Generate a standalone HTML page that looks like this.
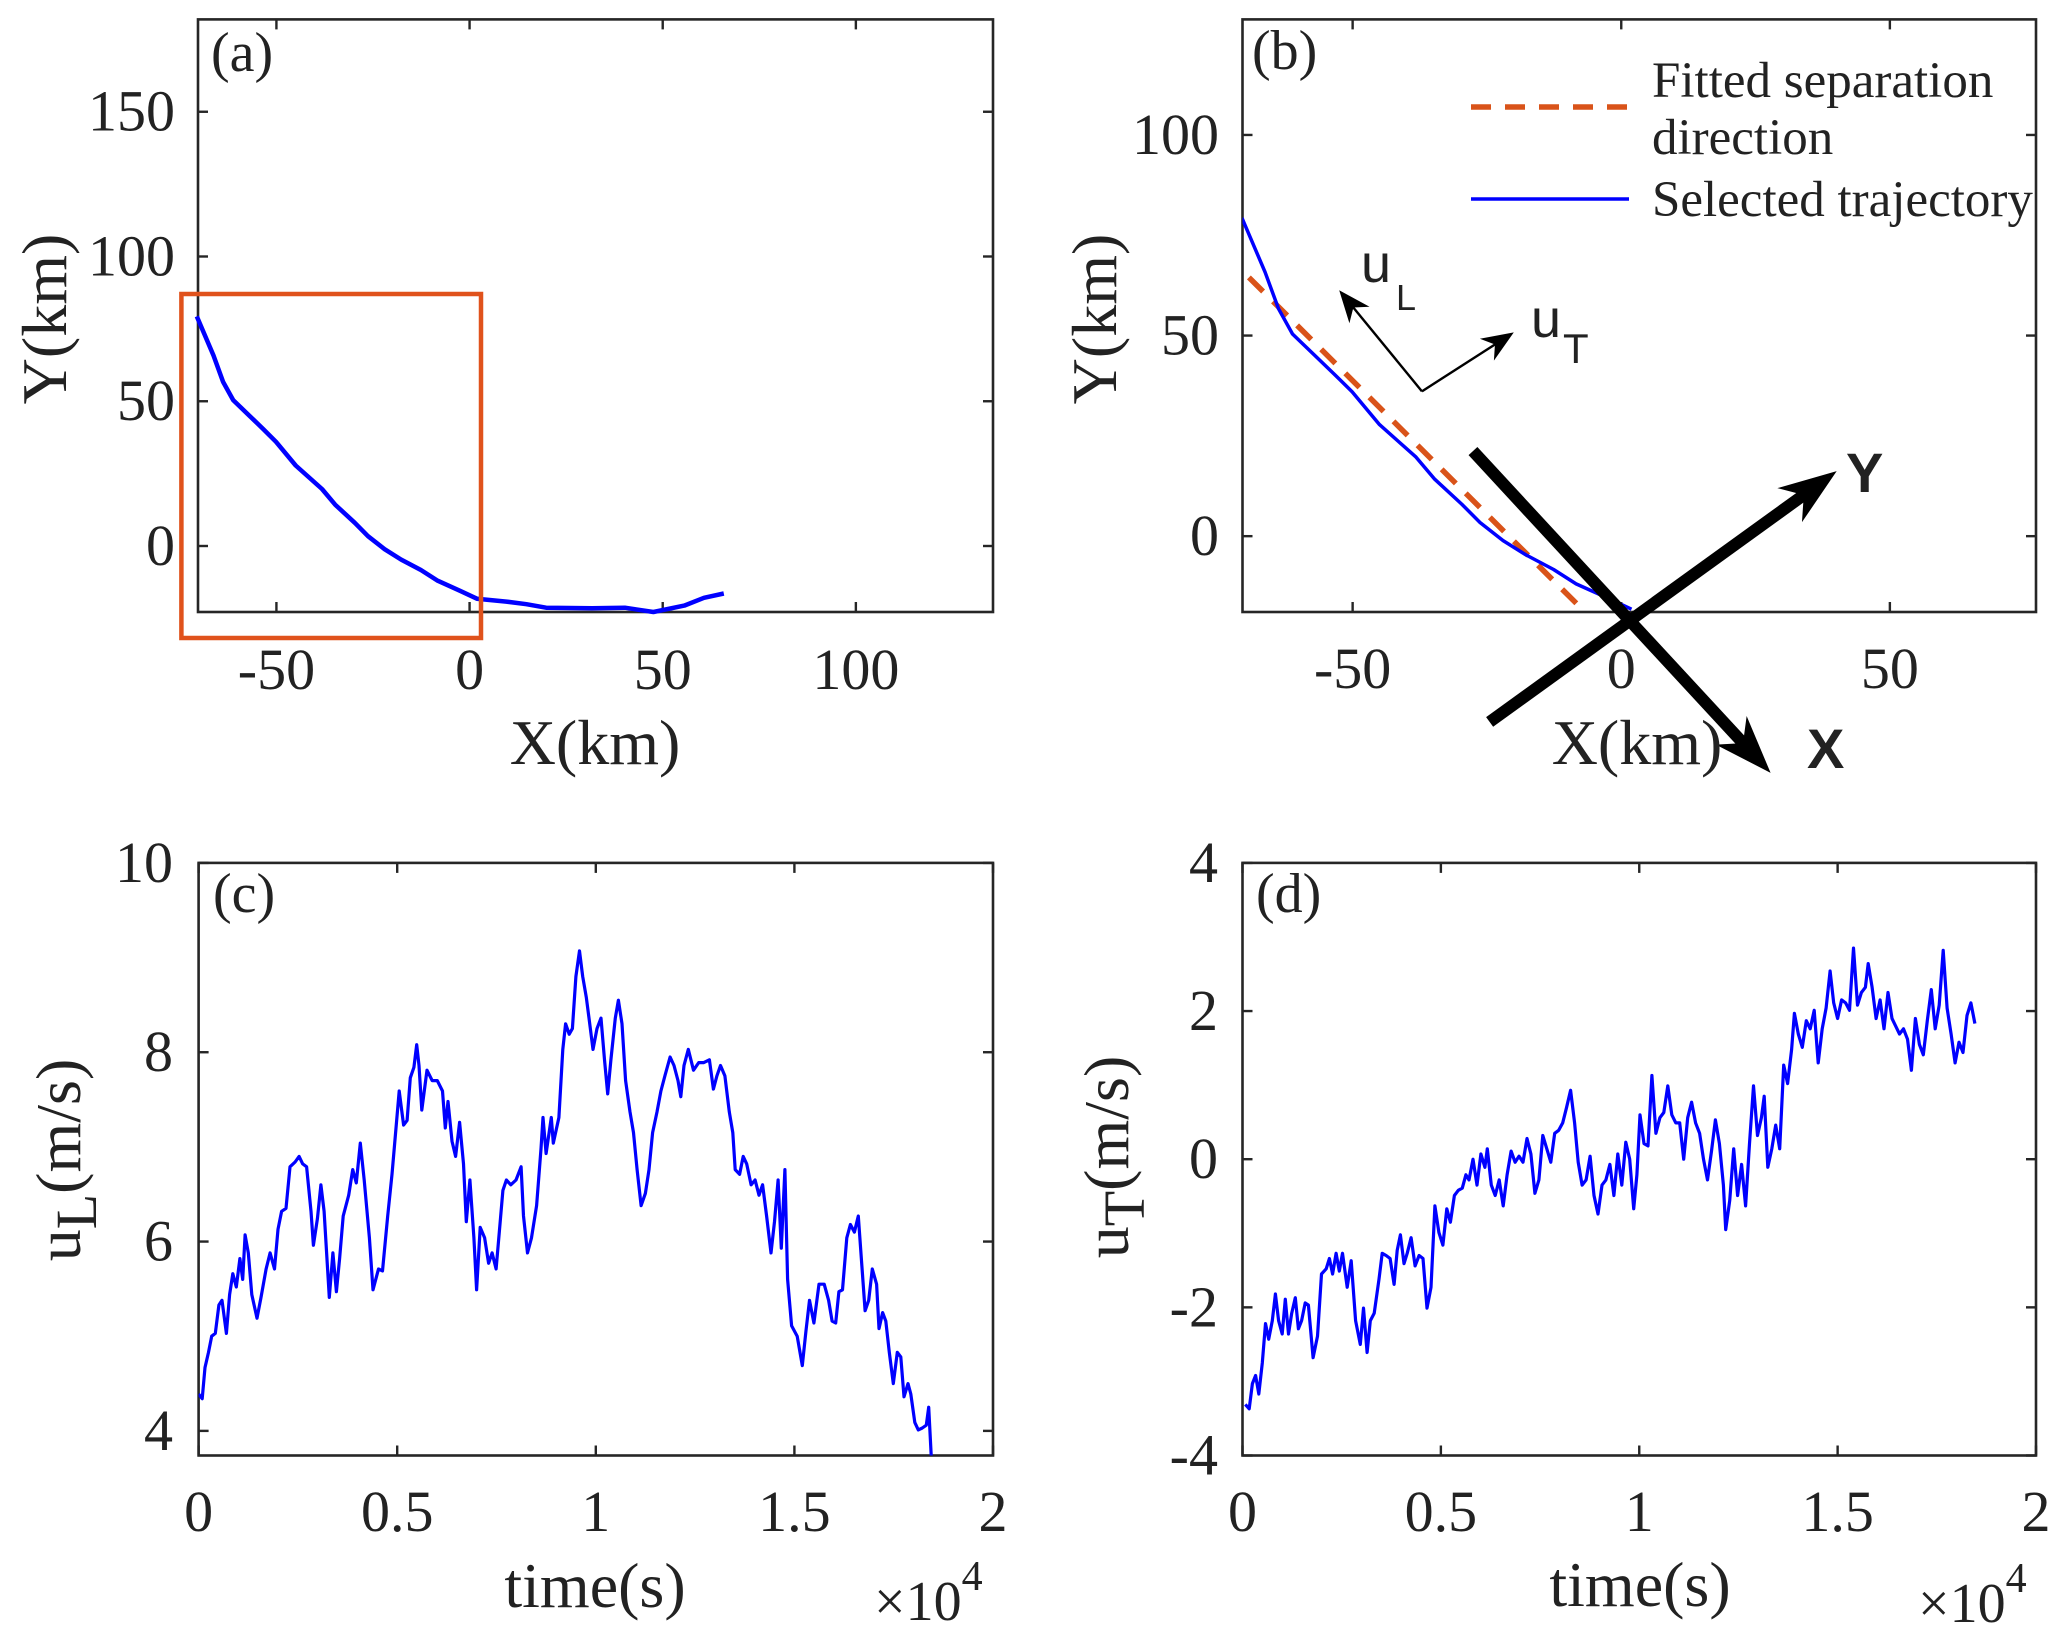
<!DOCTYPE html>
<html><head><meta charset="utf-8"><style>
html,body{margin:0;padding:0;background:#fff;}
svg{display:block;}
text{font-family:"Liberation Serif",serif;fill:#222;}
.sans{font-family:"Liberation Sans",sans-serif;}
</style></head><body>
<svg id="fig" width="2067" height="1639" viewBox="0 0 2067 1639" xmlns="http://www.w3.org/2000/svg">
<defs>
<clipPath id="clipB"><rect x="1242.5" y="19.4" width="793.5" height="592.6"/></clipPath>
<clipPath id="clipC"><rect x="198.6" y="862.9" width="794.4" height="592.6"/></clipPath>
<clipPath id="clipD"><rect x="1242.5" y="862.9" width="793.5" height="592.6"/></clipPath>
</defs>
</svg>
<script>
// ---------- data ----------
const trajX = [-70.6,-66.3,-63.8,-61.2,-57.0,-53.5,-50.1,-45.0,-38.2,-34.8,-29.7,-26.3,-22.0,-17.7,-12.6,-8.4,-2.4,1.9,9.5,14.7,19.8,31.7,40.2,47.6,55.6,60.7,65.8];
const trajY = [79.3,65.8,56.7,50.4,45.0,40.5,36.0,27.8,19.7,14.3,8.0,3.4,-1.1,-4.7,-8.3,-11.9,-15.5,-18.2,-19.2,-20.1,-21.3,-21.5,-21.3,-22.8,-20.6,-17.9,-16.4];
const selXMax = 5;
const fitX = [-69.3,-6.75];
const fitY = [64.5,-18.9];
const xTicksA = [-50,0,50,100];
const yTicksA = [0,50,100,150];
const xTicksB = [-50,0,50];
const yTicksB = [0,50,100];
const timeC = [0,.009,.016,.025,.033,.042,.051,.059,.070,.078,.086,.095,.104,.111,.117,.125,.134,.147,.157,.170,.180,.191,.200,.209,.220,.230,.243,.253,.262,.272,.283,.289,.299,.308,.316,.329,.338,.347,.355,.364,.378,.388,.397,.407,.417,.430,.439,.453,.463,.476,.487,.496,.505,.516,.525,.533,.542,.549,.555,.562,.575,.588,.601,.614,.621,.628,.638,.647,.657,.667,.674,.683,.693,.700,.709,.720,.730,.739,.749,.757,.766,.775,.786,.799,.812,.818,.828,.838,.851,.862,.867,.875,.888,.893,.907,.917,.924,.933,.941,.950,.959,.967,.976,.983,.993,1.003,1.013,1.022,1.030,1.038,1.049,1.057,1.066,1.075,1.086,1.095,1.104,1.114,1.125,1.134,1.143,1.154,1.164,1.174,1.187,1.197,1.207,1.214,1.222,1.233,1.246,1.259,1.272,1.286,1.296,1.305,1.314,1.325,1.336,1.345,1.351,1.362,1.371,1.380,1.391,1.401,1.411,1.420,1.430,1.441,1.450,1.459,1.467,1.476,1.483,1.493,1.507,1.520,1.529,1.538,1.549,1.562,1.575,1.586,1.595,1.604,1.612,1.621,1.632,1.641,1.651,1.661,1.670,1.678,1.687,1.696,1.707,1.713,1.722,1.730,1.739,1.749,1.759,1.768,1.776,1.786,1.793,1.803,1.812,1.822,1.832,1.838,1.845];
const uL = [4.39,4.34,4.67,4.83,5.00,5.03,5.33,5.38,5.03,5.44,5.66,5.52,5.82,5.60,6.07,5.88,5.44,5.19,5.41,5.71,5.88,5.71,6.13,6.32,6.35,6.79,6.84,6.90,6.82,6.79,6.32,5.96,6.24,6.60,6.32,5.41,5.88,5.47,5.82,6.27,6.49,6.76,6.62,7.04,6.65,6.04,5.49,5.71,5.69,6.27,6.71,7.15,7.59,7.23,7.28,7.73,7.84,8.08,7.86,7.39,7.81,7.70,7.70,7.59,7.20,7.48,7.06,6.90,7.26,6.82,6.21,6.65,6.04,5.49,6.15,6.04,5.77,5.88,5.71,6.10,6.54,6.65,6.60,6.65,6.79,6.27,5.88,6.04,6.38,6.98,7.31,6.93,7.31,7.04,7.31,8.03,8.30,8.19,8.25,8.80,9.07,8.80,8.58,8.36,8.03,8.25,8.36,7.92,7.56,7.92,8.36,8.55,8.30,7.70,7.37,7.15,6.76,6.38,6.51,6.76,7.15,7.37,7.59,7.75,7.95,7.86,7.70,7.53,7.86,8.03,7.81,7.89,7.89,7.92,7.61,7.75,7.86,7.75,7.37,7.15,6.76,6.71,6.90,6.82,6.60,6.65,6.49,6.60,6.27,5.88,6.21,6.65,5.93,6.76,5.60,5.11,5.00,4.69,5.05,5.38,5.14,5.55,5.55,5.38,5.16,5.14,5.47,5.49,6.04,6.18,6.10,6.27,5.74,5.27,5.38,5.71,5.55,5.08,5.25,5.16,4.83,4.50,4.83,4.78,4.36,4.50,4.39,4.09,4.01,4.03,4.06,4.25,3.70];
const yTicksC = [4,6,8,10];
const timeD = [.007,.017,.025,.033,.041,.050,.058,.066,.075,.083,.091,.100,.108,.116,.124,.133,.141,.149,.158,.166,.178,.189,.199,.211,.219,.227,.236,.244,.252,.264,.274,.285,.297,.305,.314,.322,.332,.344,.352,.362,.372,.382,.390,.398,.407,.415,.425,.435,.445,.455,.465,.475,.485,.495,.505,.515,.524,.534,.544,.554,.563,.571,.581,.591,.601,.611,.617,.627,.637,.647,.657,.667,.677,.687,.697,.707,.717,.727,.737,.747,.757,.767,.777,.787,.797,.807,.817,.827,.837,.846,.856,.866,.876,.886,.896,.906,.916,.926,.936,.946,.956,.966,.976,.986,.994,1.002,1.012,1.022,1.032,1.042,1.052,1.062,1.072,1.082,1.092,1.102,1.112,1.122,1.132,1.142,1.152,1.162,1.172,1.182,1.192,1.202,1.212,1.218,1.228,1.238,1.248,1.258,1.268,1.278,1.288,1.298,1.308,1.315,1.324,1.334,1.344,1.354,1.364,1.374,1.384,1.391,1.401,1.411,1.421,1.431,1.441,1.451,1.461,1.471,1.481,1.490,1.500,1.510,1.520,1.530,1.540,1.550,1.560,1.570,1.577,1.587,1.597,1.607,1.617,1.627,1.637,1.646,1.656,1.666,1.676,1.686,1.696,1.706,1.716,1.726,1.736,1.746,1.756,1.766,1.776,1.786,1.796,1.806,1.816,1.826,1.836,1.846];
const uT = [-3.31,-3.37,-3.03,-2.92,-3.17,-2.75,-2.22,-2.43,-2.18,-1.82,-2.18,-2.36,-1.89,-2.36,-2.08,-1.87,-2.29,-2.18,-1.94,-1.97,-2.68,-2.39,-1.55,-1.48,-1.34,-1.55,-1.27,-1.51,-1.27,-1.73,-1.37,-2.18,-2.50,-2.01,-2.61,-2.18,-2.08,-1.62,-1.27,-1.30,-1.34,-1.69,-1.23,-1.02,-1.41,-1.27,-1.06,-1.44,-1.30,-1.34,-2.01,-1.73,-0.63,-0.99,-1.16,-0.67,-0.85,-0.49,-0.42,-0.39,-0.21,-0.28,0.00,-0.35,0.07,-0.11,0.14,-0.35,-0.49,-0.28,-0.63,-0.21,0.11,-0.04,0.04,-0.04,0.28,0.07,-0.46,-0.28,0.32,0.14,-0.04,0.35,0.39,0.49,0.70,0.93,0.49,-0.04,-0.35,-0.28,0.04,-0.49,-0.74,-0.35,-0.28,-0.07,-0.49,0.07,-0.35,0.23,0.00,-0.67,-0.21,0.60,0.21,0.18,1.13,0.35,0.56,0.63,0.99,0.60,0.49,0.49,0.00,0.56,0.77,0.49,0.35,0.00,-0.28,0.11,0.53,0.21,-0.35,-0.95,-0.56,0.14,-0.49,-0.07,-0.63,0.21,0.99,0.32,0.56,0.85,-0.11,0.14,0.46,0.14,1.27,1.02,1.48,1.97,1.69,1.51,1.87,1.76,2.01,1.30,1.76,2.04,2.54,2.11,1.90,2.15,2.11,2.01,2.85,2.08,2.25,2.32,2.64,2.32,1.90,2.15,1.76,2.25,1.90,1.80,1.69,1.76,1.62,1.20,1.90,1.55,1.41,1.87,2.29,1.76,2.08,2.82,2.04,1.69,1.30,1.58,1.44,1.94,2.11,1.83];
const yTicksD = [-4,-2,0,2,4];
const timeTicks = [0,0.5,1,1.5,2];
const timeTickLabels = ['0','0.5','1','1.5','2'];

// ---------- helpers ----------
const NS='http://www.w3.org/2000/svg';
const svg=document.getElementById('fig');
function mk(tag,attrs,parent){const e=document.createElementNS(NS,tag);for(const k in attrs)e.setAttribute(k,attrs[k]);(parent||svg).appendChild(e);return e;}
function lin(d0,d1,p0,p1){return v=>p0+(v-d0)*(p1-p0)/(d1-d0);}
function txt(s,x,y,size,anchor,extra){const e=mk('text',Object.assign({x:x,y:y,'font-size':size,'text-anchor':anchor||'start'},extra||{}));e.textContent=s;return e;}

function axes(name,L,R,T,B,sx,sy,xt,xl,yt,yl,xlabY,ylabX){
  const g=mk('g',{});
  
  
  const box=mk('rect',{x:L,y:T,width:R-L,height:B-T,fill:'none',stroke:'#262626','stroke-width':2.6},g);
  
  
  xt.forEach((v,i)=>{const x=sx(v);
    const t1=mk('line',{x1:x,y1:B,x2:x,y2:B-10,stroke:'#262626','stroke-width':2.4},g);
    
    
    const t2=mk('line',{x1:x,y1:T,x2:x,y2:T+10,stroke:'#262626','stroke-width':2.4},g);
    
    
    const lb=txt(xl[i],x,xlabY,58,'middle');
    
    
  });
  yt.forEach((v,i)=>{const y=sy(v);
    const t1=mk('line',{x1:L,y1:y,x2:L+10,y2:y,stroke:'#262626','stroke-width':2.4},g);
    
    
    const t2=mk('line',{x1:R,y1:y,x2:R-10,y2:y,stroke:'#262626','stroke-width':2.4},g);
    
    
    const lb=txt(yl[i],ylabX,y+19,58,'end');
    
    
  });
}
function poly(xs,ys,sx,sy,attrs){return mk('polyline',Object.assign({points:xs.map((v,i)=>sx(v).toFixed(1)+','+sy(ys[i]).toFixed(1)).join(' '),fill:'none'},attrs));}
function arrow(x1,y1,x2,y2,w,hl,hw,name){
  const dx=x2-x1,dy=y2-y1,len=Math.hypot(dx,dy),ux=dx/len,uy=dy/len,px=-uy,py=ux;
  const bx=x2-ux*hl,by=y2-uy*hl;
  const l=mk('line',{x1:x1,y1:y1,x2:x2-ux*hl*0.6,y2:y2-uy*hl*0.6,stroke:'#000','stroke-width':w});
  
  
  const h=mk('polygon',{points:[x2,y2,bx+px*hw,by+py*hw,x2-ux*hl*0.7,y2-uy*hl*0.7,bx-px*hw,by-py*hw].join(','),fill:'#000'});
  
  
}

// ---------- panel (a) ----------
const axL=198,axR=993,axT=19.4,axB=612;
const sxA=lin(-70.3,135.5,axL,axR), syA=lin(-22.8,181.9,axB,axT);
axes('panel-a',axL,axR,axT,axB,sxA,syA,xTicksA,xTicksA.map(String),yTicksA,yTicksA.map(String),689,175);
const ta=poly(trajX,trajY,sxA,syA,{stroke:'#0000ff','stroke-width':4.5,'stroke-linejoin':'round'});


const zr=mk('rect',{x:181.4,y:294,width:299.6,height:344,fill:'none',stroke:'#E0521C','stroke-width':4.5});


let e;
e=txt('(a)',211,71,56,'start');


e=txt('X(km)',595,764,64,'middle');


e=txt('Y(km)',0,0,64,'middle',{transform:'translate(66,319) rotate(-90)'});



// ---------- panel (b) ----------
const bL=1242.5,bR=2036,bT=19.4,bB=612;
const sxB=lin(-70.5,77.2,bL,bR), syB=lin(-18.9,128.8,bB,bT);
axes('panel-b',bL,bR,bT,bB,sxB,syB,xTicksB,xTicksB.map(String),yTicksB,yTicksB.map(String),688,1219);
const fl=poly(fitX,fitY,sxB,syB,{stroke:'#D95319','stroke-width':5.5,'stroke-dasharray':'20 14'});


const selIdx=trajX.map((v,i)=>i).filter(i=>trajX[i]<=selXMax);
const tb=poly(selIdx.map(i=>trajX[i]),selIdx.map(i=>trajY[i]),sxB,syB,{stroke:'#0000ff','stroke-width':3.5,'stroke-linejoin':'round','clip-path':'url(#clipB)'});


// legend
const lg=mk('line',{x1:1471,y1:107,x2:1629,y2:107,stroke:'#D95319','stroke-width':5.5,'stroke-dasharray':'20 14'});


e=txt('Fitted separation',1652,97,51,'start');


e=txt('direction',1652,154,51,'start');


const lb2=mk('line',{x1:1471,y1:199,x2:1629,y2:199,stroke:'#0000ff','stroke-width':3.5});


e=txt('Selected trajectory',1652,216,51,'start');


// rotated axes arrows (data coords)
arrow(sxB(-27.6),syB(21.2),sxB(27.8),syB(-59),12,58,21,'rotated-x-axis-arrow');
arrow(sxB(-24.5),syB(-46.3),sxB(40.1),syB(16.2),12,58,21,'rotated-y-axis-arrow');
arrow(sxB(-37.1),syB(36.1),sxB(-52.5),syB(61.3),2.4,32,13,'uL-arrow');
arrow(sxB(-37.1),syB(36.1),sxB(-20.0),syB(50.8),2.4,32,13,'uT-arrow');
e=txt('Y',1846,492,56,'start',{'font-weight':'bold',class:'sans'});


e=txt('X',1807,768,56,'start',{'font-weight':'bold',class:'sans'});


e=txt('u',1361,282,54,'start',{class:'sans'});


e=txt('L',1396,310,36,'start',{class:'sans'});


e=txt('u',1531,337,54,'start',{class:'sans'});


e=txt('T',1563,363,42,'start',{class:'sans'});


e=txt('(b)',1252,69,56,'start');


e=txt('X(km)',1637,764,64,'middle');


e=txt('Y(km)',0,0,64,'middle',{transform:'translate(1116,319) rotate(-90)'});



// ---------- panel (c) ----------
const cL=198.6,cR=993,cT=862.9,cB=1455.5;
const sxC=lin(0,2,cL,cR), syC=lin(3.74,10,cB,cT);
axes('panel-c',cL,cR,cT,cB,sxC,syC,timeTicks,timeTickLabels,yTicksC,yTicksC.map(String),1531,173);
const sc=poly(timeC,uL,sxC,syC,{stroke:'#0000ff','stroke-width':3.2,'stroke-linejoin':'round','clip-path':'url(#clipC)'});


e=txt('(c)',213,912,56,'start');


e=txt('time(s)',595,1607,64,'middle');


e=mk('text',{x:874,y:1620,'font-size':56});
e.innerHTML='×10<tspan dy="-30" font-size="42">4</tspan>';


e=mk('text',{'font-size':64,'text-anchor':'middle',transform:'translate(80,1160) rotate(-90)'});
e.innerHTML='u<tspan dy="16" font-size="58">L</tspan><tspan dy="-16">(m/s)</tspan>';



// ---------- panel (d) ----------
const dL=1242.5,dR=2036,dT=862.9,dB=1455.5;
const sxD=lin(0,2,dL,dR), syD=lin(-4,4,dB,dT);
axes('panel-d',dL,dR,dT,dB,sxD,syD,timeTicks,timeTickLabels,yTicksD,yTicksD.map(String),1531,1218);
const sd=poly(timeD,uT,sxD,syD,{stroke:'#0000ff','stroke-width':3.2,'stroke-linejoin':'round','clip-path':'url(#clipD)'});


e=txt('(d)',1256,912,56,'start');


e=txt('time(s)',1640,1606,64,'middle');


e=mk('text',{x:1918,y:1622,'font-size':56});
e.innerHTML='×10<tspan dy="-30" font-size="42">4</tspan>';


e=mk('text',{'font-size':64,'text-anchor':'middle',transform:'translate(1128,1157) rotate(-90)'});
e.innerHTML='u<tspan dy="16" font-size="58">T</tspan><tspan dy="-16">(m/s)</tspan>';


</script>
</body></html>
